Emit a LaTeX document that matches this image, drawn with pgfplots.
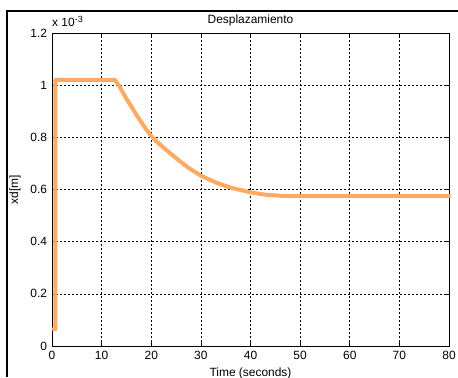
\documentclass[border=0pt]{standalone}
\usepackage{fontspec}
\setmainfont{Liberation Sans}
\usepackage{pgfplots}
\pgfplotsset{compat=1.18}
\definecolor{lineorange}{RGB}{255,170,96}
\begin{document}
\begin{tikzpicture}[x=1bp,y=1bp]
\useasboundingbox (0,0) rectangle (458,377);
\draw[line width=2bp] (7,0) -- (7,366) -- (458,366);
\begin{axis}[
  at={(52bp,31bp)}, anchor=south west,
  scale only axis, width=397bp, height=313bp,
  xmin=0, xmax=80, ymin=0, ymax=1.2,
  xtick={0,10,20,30,40,50,60,70,80},
  ytick={0,0.2,0.4,0.6,0.8,1,1.2},
  /pgf/number format/assume math mode=true,
  grid=major,
  major grid style={black, dash pattern=on 2bp off 2bp, line width=0.6bp},
  tick align=inside, major tick length=4bp,
  tick style={black, line width=0.6bp},
  axis line style={line width=0.8bp},
  ticklabel style={font=\fontsize{12}{14}\selectfont},
  xticklabel style={yshift=-1.5bp},
  yticklabel style={xshift=-1.5bp},
  label style={font=\fontsize{12}{14}\selectfont},
  xlabel={Time (seconds)},
  xlabel style={at={([yshift=-30bp]axis description cs:0.5,0)}, anchor=base},
  ylabel={xd[m]},
  ylabel style={at={([xshift=-37bp]axis description cs:0,0.5)}, anchor=center},
  title={Desplazamiento},
  title style={at={([yshift=4bp]axis description cs:0.5,1)}, anchor=base, font=\fontsize{12}{14}\selectfont},
  clip=false,
]
\addplot[lineorange, line width=4bp, line join=round, line cap=round] coordinates {
(0.3,0.065)(0.7,0.065)(0.7,1.02)(12.7,1.02)(13.5,0.998)(15,0.948)(17.5,0.872)(19,0.83)(20,0.805)(21,0.785)(22.5,0.76)(25,0.72)(27.5,0.683)(30,0.653)(33,0.627)(36,0.607)(40,0.589)(43,0.58)(46,0.576)(48,0.575)(80,0.575)
};
\node[anchor=base west, font=\fontsize{12}{14}\selectfont, inner sep=0pt] at ([yshift=6bp]axis description cs:0,1) {x 10\raisebox{4.5bp}{\fontsize{9}{10}\selectfont -3}};
\end{axis}
\end{tikzpicture}
\end{document}
